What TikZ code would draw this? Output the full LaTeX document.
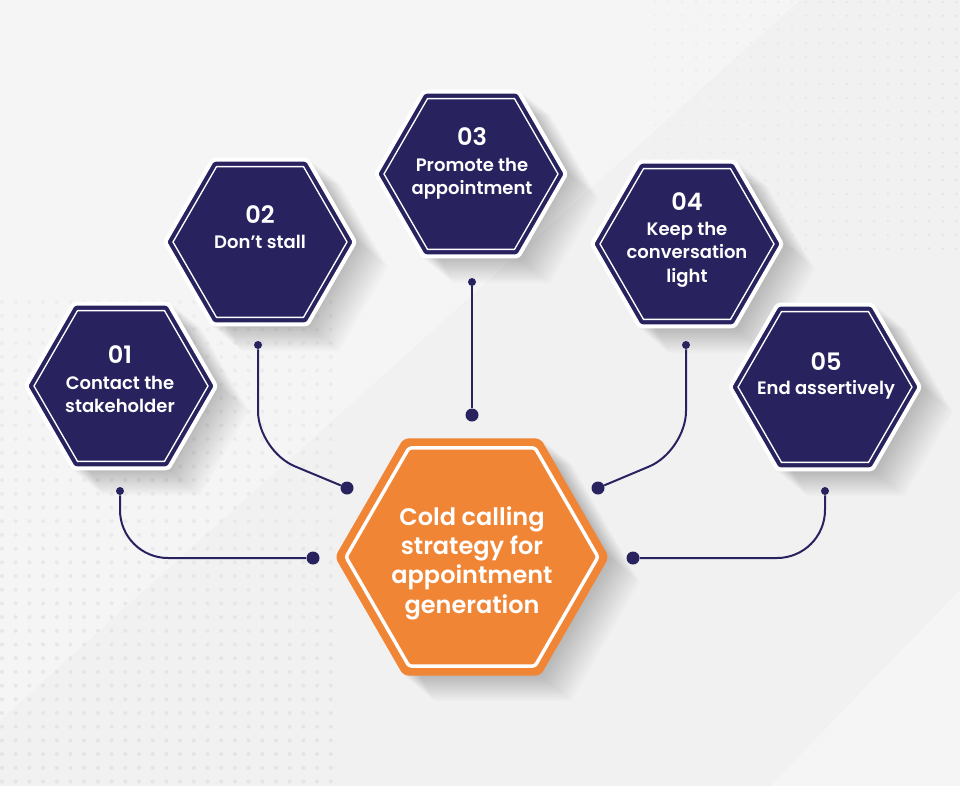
\documentclass[tikz,border=0pt]{standalone}
\usepackage{fontspec}
\setmainfont{Poppins}[BoldFont={* SemiBold}]
\usetikzlibrary{shapes.geometric,positioning}

\definecolor{navy}{HTML}{28235F}
\definecolor{orng}{HTML}{F08536}
\definecolor{bggray}{HTML}{F1F1F2}
\definecolor{dotgray}{HTML}{E4E4E7}

\tikzset{
  stephex/.style={regular polygon,regular polygon sides=6,minimum size=142.5pt,inner sep=0pt,
    fill=navy,draw=white,line width=3pt,rounded corners=2pt},
  stepring/.style={regular polygon,regular polygon sides=6,minimum size=130.5pt,inner sep=0pt,
    draw=white,line width=1pt},
  mainhex/.style={regular polygon,regular polygon sides=6,minimum size=205.5pt,inner sep=0pt,
    fill=orng,rounded corners=4pt},
  mainring/.style={regular polygon,regular polygon sides=6,minimum size=189pt,inner sep=0pt,
    draw=white,line width=2.6pt,rounded corners=2pt},
  numtext/.style={anchor=north,inner sep=0pt,text=white,font=\bfseries\fontsize{18}{20}\selectfont},
  steptext/.style={anchor=north,inner sep=0pt,text=white,align=center,
    font=\bfseries\fontsize{13.5}{17.5}\selectfont},
  maintext/.style={anchor=north,inner sep=0pt,text=white,align=center,
    font=\bfseries\fontsize{18}{22}\selectfont},
  pin/.style={circle,fill=navy,minimum size=6pt,inner sep=0pt},
  tip/.style={circle,fill=navy,minimum size=9.75pt,inner sep=0pt},
  link/.style={draw=navy,line width=1.5pt}
}

\begin{document}
\begin{tikzpicture}[x=0.75pt,y=-0.75pt]
    % background
    \fill[bggray] (0,0) rectangle (960,786);
    \fill[white,opacity=0.3] (0,0) -- (800,0) -- (0,720) -- cycle;
    \fill[white,opacity=0.3] (960,590) -- (960,786) -- (770,786) -- cycle;
    \foreach \i in {0,...,24}
      \foreach \j in {0,...,35}
        \fill[dotgray,opacity=0.4+0.6*\j/35] (2+13.7*\i,302+13.7*\j) circle (2);
    \foreach \i in {0,...,22}
      \foreach \j in {0,...,18}
        \fill[dotgray,opacity=0.3+0.7*\i/22] (655+13.7*\i,2+13.7*\j) circle (1.4);

    % shadows
    \foreach \x/\y in {121/386,260/242,471/174,687/244,825/387}
      \foreach \k in {1,...,14}
        \fill[black,opacity=0.016] (\x+2.2*\k,\y+1.8*\k) +(0:97) -- +(60:97) -- +(120:97)
          -- +(180:97) -- +(240:97) -- +(300:97) -- cycle;
    \foreach \k in {1,...,14}
      \fill[black,opacity=0.016] (472+2.2*\k,557+1.8*\k) +(0:137) -- +(60:137) -- +(120:137)
        -- +(180:137) -- +(240:137) -- +(300:137) -- cycle;

    \node[stephex] (step1) at (121,386) {};
    \node[stepring] (ring1) at (121,386) {};
    \node[stephex] (step2) at (260,242) {};
    \node[stepring] (ring2) at (260,242) {};
    \node[stephex] (step3) at (471,174) {};
    \node[stepring] (ring3) at (471,174) {};
    \node[stephex] (step4) at (687,244) {};
    \node[stepring] (ring4) at (687,244) {};
    \node[stephex] (step5) at (825,387) {};
    \node[stepring] (ring5) at (825,387) {};

    \node[mainhex] (goal) at (472,557) {};
    \node[mainring] (goalring) at (472,557) {};

    % label
    \node[numtext] (num1) at (120,345) {01};
    \node[steptext] (text1) at (120,376) {Contact the\\stakeholder};
    \node[numtext] (num2) at (260,205) {02};
    \node[steptext] (text2) at (260,235) {Don’t stall};
    \node[numtext] (num3) at (472,127) {03};
    \node[steptext] (text3) at (472,158) {Promote the\\appointment};
    \node[numtext] (num4) at (687,192) {04};
    \node[steptext] (text4) at (687,222) {Keep the\\conversation\\light};
    \node[numtext] (num5) at (826,352) {05};
    \node[steptext] (text5) at (826,380) {End assertively};

    \node[maintext] (goaltext) at (472,506) {Cold calling\\strategy for\\appointment\\generation};

    \node[pin] (pin1) at (120,491) {};
    \node[pin] (pin2) at (258,345) {};
    \node[pin] (pin3) at (472,282) {};
    \node[pin] (pin4) at (686,345) {};
    \node[pin] (pin5) at (825,491) {};

    \node[tip] (tip1) at (313,558) {};
    \node[tip] (tip2) at (347,488) {};
    \node[tip] (tip3) at (472,415) {};
    \node[tip] (tip4) at (598,488) {};
    \node[tip] (tip5) at (633,558) {};

    \coordinate (bend2) at (258,451);
    \coordinate (bend4) at (686,451);

    \draw[link,rounded corners=36pt] (pin1) |- (tip1);
    \draw[link,rounded corners=30pt] (pin2) -- (bend2) -- (tip2);
    \draw[link] (pin3) -- (tip3);
    \draw[link,rounded corners=30pt] (pin4) -- (bend4) -- (tip4);
    \draw[link,rounded corners=36pt] (pin5) |- (tip5);
\end{tikzpicture}
\end{document}
